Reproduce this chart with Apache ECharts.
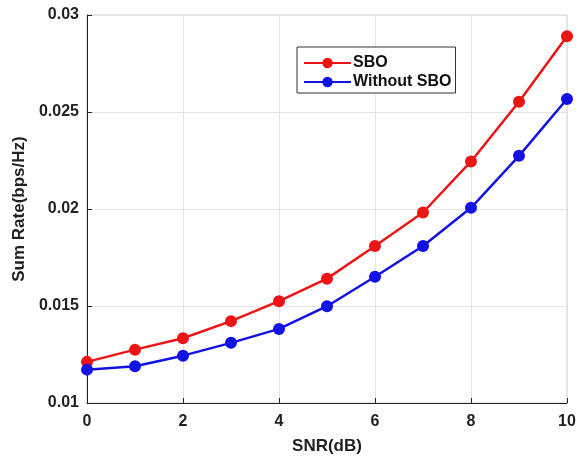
<!DOCTYPE html>
<html>
<head>
<meta charset="utf-8">
<script src="https://cdn.jsdelivr.net/npm/echarts@6/dist/echarts.min.js"></script>
<style>
    html, body { margin: 0; padding: 0; background: #fff; }
    #chart { width: 579px; height: 461px; }
</style>
</head>
<body>
<div id="chart"></div>
<script>
// SNR 取值 (dB)
var snr = [0, 1, 2, 3, 4, 5, 6, 7, 8, 9, 10];
// 有 SBO
var sboRate = [0.01212, 0.01275, 0.01334, 0.01422, 0.01525, 0.01641, 0.01809, 0.01982, 0.02245, 0.02553, 0.02891];
// 无 SBO
var noSboRate = [0.01172, 0.01189, 0.01244, 0.0131, 0.01382, 0.01499, 0.01651, 0.01809, 0.02006, 0.02274, 0.02567];
var seriesNames = ['SBO', 'Without SBO'];

function pairs(xs, ys) {
    return xs.map(function (x, i) { return [x, ys[i]]; });
}

var myChart = echarts.init(document.getElementById('chart'));
var font = 'Liberation Sans, Arial, sans-serif';

var option = {
    animation: false,
    backgroundColor: '#fff',
    textStyle: { fontFamily: font },
    grid: {
        left: 87, right: 12, top: 15, bottom: 58,
        show: true,
        borderColor: '#d0d0d0',
        borderWidth: 1
    },
    legend: {
        data: seriesNames,
        orient: 'vertical',
        left: 297,
        top: 47,
        padding: [8, 4, 3, 6],
        itemWidth: 47,
        itemHeight: 13,
        itemGap: 3,
        borderColor: '#333',
        borderWidth: 1,
        backgroundColor: '#fff',
        textStyle: { fontFamily: font, fontSize: 16, fontWeight: 'bold', color: '#111', padding: [0, 0, 0, -3] }
    },
    xAxis: {
        type: 'value',
        min: 0,
        max: 10,
        interval: 2,
        name: 'SNR(dB)',
        nameLocation: 'middle',
        nameGap: 35,
        nameTextStyle: { fontSize: 17, fontWeight: 'bold', color: '#222' },
        axisLine: { lineStyle: { color: '#222', width: 1 } },
        axisTick: { inside: true, length: 5, lineStyle: { color: '#222' } },
        axisLabel: { fontSize: 16, fontWeight: 'bold', color: '#222', margin: 11 },
        splitLine: { show: true, lineStyle: { color: '#e3e3e3' } }
    },
    yAxis: {
        type: 'value',
        min: 0.01,
        max: 0.03,
        interval: 0.005,
        name: 'Sum Rate(bps/Hz)',
        nameLocation: 'middle',
        nameGap: 57,
        nameTextStyle: { fontSize: 17, fontWeight: 'bold', color: '#222' },
        axisLine: { show: true, lineStyle: { color: '#222', width: 1 } },
        axisTick: { show: true, inside: true, length: 5, lineStyle: { color: '#222' } },
        axisLabel: { fontSize: 16, fontWeight: 'bold', color: '#222', margin: 8 },
        splitLine: { show: true, lineStyle: { color: '#e3e3e3' } }
    },
    series: [
        {
            name: seriesNames[0],
            type: 'line',
            data: pairs(snr, sboRate),
            symbol: 'circle',
            symbolSize: 12,
            itemStyle: { color: '#ec1515' },
            lineStyle: { color: '#ec1515', width: 2.5 }
        },
        {
            name: seriesNames[1],
            type: 'line',
            data: pairs(snr, noSboRate),
            symbol: 'circle',
            symbolSize: 12,
            itemStyle: { color: '#1212e6' },
            lineStyle: { color: '#1212e6', width: 2.5 }
        }
    ]
};

myChart.setOption(option);
</script>
</body>
</html>
